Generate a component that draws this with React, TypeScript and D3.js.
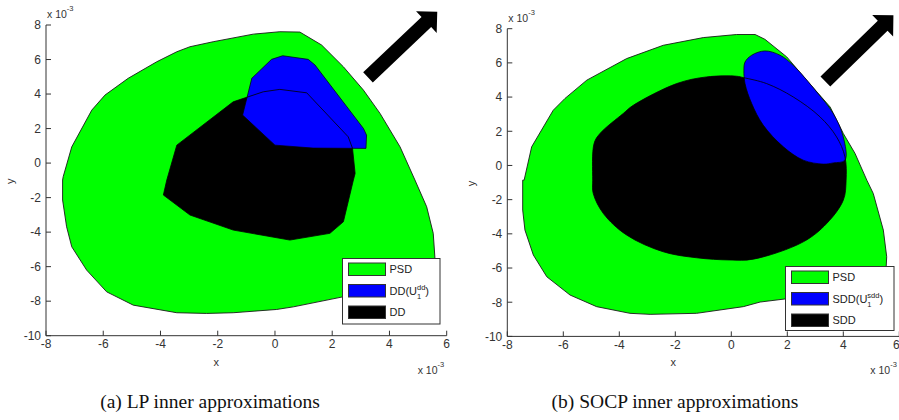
import React from "react";
import * as d3 from "d3";

type P = [number, number];

// ---- data (units of 1e-3) ----
const xTicks = [-8, -6, -4, -2, 0, 2, 4, 6];
const yTicks = [-10, -8, -6, -4, -2, 0, 2, 4, 6, 8];

const psdLeft: P[] = [
  [-7.4, -0.79], [-7.1, 0.94], [-6.4, 3.07], [-5.94, 3.94], [-5.13, 4.91], [-4.13, 5.87],
  [-3.43, 6.45], [-2.97, 6.74], [-2.16, 7.03], [-0.76, 7.47], [0.17, 7.61], [0.87, 7.59],
  [1.63, 6.84], [2.39, 5.58], [3.09, 4.23], [3.67, 2.88], [4.37, 0.94], [4.89, -0.98],
  [5.3, -2.53], [5.53, -4.07], [5.59, -5.52], [5.56, -6.32], [5.24, -7.07], [4.02, -7.47],
  [2.37, -7.75], [0.64, -8.33], [0.06, -8.48], [-1.46, -8.67], [-2.39, -8.71], [-3.43, -8.67],
  [-4.95, -8.23], [-5.88, -7.46], [-6.58, -6.2], [-7.1, -4.85], [-7.28, -3.69], [-7.42, -2.14],
  [-7.42, -0.98],
];
const ddLeft: P[] = [
  [-0.99, 3.81], [-0.41, 4.13], [0.17, 4.27], [1.11, 4.07], [2.56, 1.52], [2.71, 0.85],
  [2.8, -0.6], [2.74, -0.98], [2.39, -3.4], [1.92, -4.07], [0.52, -4.46], [-1.46, -3.88],
  [-2.97, -3.01], [-3.9, -1.85], [-3.78, -0.98], [-3.43, 1.04], [-1.46, 3.55],
];
const ddULeft: P[] = [
  [-1.13, 2.78], [-0.81, 4.91], [-0.12, 6.01], [0.27, 6.22], [1.16, 6.01], [1.4, 5.68],
  [3.09, 2.01], [3.2, 1.62], [3.18, 0.85], [1.33, 0.87], [0.0, 1.04],
];

const psdRight: P[] = [
  [-7.4, -0.86], [-7.13, 1.09], [-6.36, 3.23], [-5.94, 3.92], [-5.16, 4.99], [-3.74, 6.25],
  [-2.43, 7.03], [-1.0, 7.48], [0.19, 7.66], [0.85, 7.66], [1.2, 7.38], [1.98, 6.35],
  [2.69, 4.99], [3.53, 3.42], [4.0, 1.87], [4.42, 0.7], [4.84, -0.86], [5.07, -1.64],
  [5.43, -3.78], [5.55, -5.34], [5.53, -6.0], [4.95, -7.0], [3.53, -7.4], [1.92, -7.81],
  [1.03, -7.99], [0.43, -8.26], [-1.24, -8.65], [-2.9, -8.71], [-3.62, -8.65], [-4.81, -8.26],
  [-5.76, -7.58], [-6.59, -6.51], [-7.07, -5.24], [-7.37, -3.78], [-7.45, -2.61], [-7.45, -0.86],
];
const sddRight: P[] = [
  [-4.95, -0.86], [-4.9, 1.29], [-4.69, 1.87], [-3.86, 3.04], [-3.5, 3.52], [-1.95, 4.79],
  [-0.88, 5.18], [0.19, 5.22], [0.43, 5.14], [1.26, 4.79], [2.21, 4.01], [3.17, 2.84],
  [3.76, 1.67], [4.06, 0.5], [4.1, -0.86], [4.0, -2.03], [3.41, -3.39], [2.57, -4.47],
  [0.79, -5.48], [-0.05, -5.53], [-1.24, -5.4], [-2.43, -5.05], [-3.74, -4.07], [-4.57, -2.81],
  [-4.93, -1.64],
];
const sddURight: P[] = [
  [0.49, 6.05], [0.73, 6.45], [1.2, 6.7], [1.74, 6.45], [2.21, 5.86], [3.05, 4.3],
  [3.64, 3.04], [4.0, 1.67], [4.06, 0.31], [3.64, 0.15], [3.29, 0.08], [2.57, 0.31],
  [1.86, 1.09], [1.14, 2.36], [0.73, 3.62], [0.49, 4.79], [0.45, 5.57],
];

const arrowLeft: P[] = [[3.25, 4.97], [5.67, 8.77]];
const arrowRight: P[] = [[3.36, 4.91], [5.79, 8.78]];

const captions = ["(a) LP inner approximations", "(b) SOCP inner approximations"];
const legendLeft = ["PSD", "DD", "dd", "DD"];
const legendRight = ["PSD", "SDD", "sdd", "SDD"];

const GREEN = "#00ff00";
const BLUE = "#0000ff";
const AX = "#333333";
const SANS = "Arial, 'Liberation Sans', sans-serif";

function arrowPath(t: P, h: P, sw = 14, hw = 30, hl = 15) {
  const dx = h[0] - t[0], dy = h[1] - t[1];
  const L = Math.hypot(dx, dy);
  const ux = dx / L, uy = dy / L;
  const nx = -uy, ny = ux;
  const bx = h[0] - ux * hl, by = h[1] - uy * hl;
  const pts: P[] = [
    [t[0] + nx * sw / 2, t[1] + ny * sw / 2],
    [bx + nx * sw / 2, by + ny * sw / 2],
    [bx + nx * hw / 2, by + ny * hw / 2],
    h,
    [bx - nx * hw / 2, by - ny * hw / 2],
    [bx - nx * sw / 2, by - ny * sw / 2],
    [t[0] - nx * sw / 2, t[1] - ny * sw / 2],
  ];
  return "M" + pts.map((p) => p.join(",")).join("L") + "Z";
}

interface PanelProps {
  x0: number; x1: number; yTop: number; yBot: number;
  psd: P[]; inner: P[]; innerU: P[]; smooth: boolean; arrow: P[];
  legend: string[]; legendBox: [number, number, number, number];
  supW: number; lastTickShift: number;
}

function Panel(p: PanelProps) {
  const x = d3.scaleLinear().domain([-8, 6]).range([p.x0, p.x1]);
  const y = d3.scaleLinear().domain([-10, 8]).range([p.yBot, p.yTop]);
  const lin = d3.line<P>().x((d) => x(d[0])).y((d) => y(d[1])).curve(d3.curveLinearClosed);
  const sm = d3.line<P>().x((d) => x(d[0])).y((d) => y(d[1])).curve(p.smooth ? d3.curveCatmullRomClosed.alpha(0.5) : d3.curveLinearClosed);
  const a0: P = [x(p.arrow[0][0]), y(p.arrow[0][1])];
  const a1: P = [x(p.arrow[1][0]), y(p.arrow[1][1])];
  const [lx, ly, lw, lh] = p.legendBox;
  const swX = lx + 6, swW = 37, swH = 12.5;
  const rowY = [ly + 4.5, ly + 26, ly + 47.5];
  const tx = swX + swW + 4;
  const fills = [GREEN, BLUE, "#000"];
  return (
    <g>
      <path d={lin(p.psd) || ""} fill={GREEN} stroke="#1a1a1a" strokeWidth={0.9} />
      <path d={sm(p.inner) || ""} fill="#000" stroke="none" />
      <path d={sm(p.innerU) || ""} fill={BLUE} stroke="#000" strokeWidth={0.7} />
      <path d={sm(p.inner) || ""} fill="none" stroke="#000" strokeWidth={0.8} />
      <path d={arrowPath(a0, a1)} fill="#000" />
      {/* axes */}
      <line x1={p.x0} x2={p.x1} y1={p.yBot} y2={p.yBot} stroke={AX} strokeWidth={1} />
      <line x1={p.x0} x2={p.x0} y1={p.yBot} y2={p.yTop} stroke={AX} strokeWidth={1} />
      {xTicks.map((t, i) => (
        <g key={"x" + t}>
          <line x1={x(t)} x2={x(t)} y1={p.yBot} y2={p.yBot - 5} stroke={AX} />
          <text x={x(t) - (i === xTicks.length - 1 ? p.lastTickShift : 0)} y={p.yBot + 12.5} textAnchor="middle" fontFamily={SANS} fontSize={12} fill="#333">{t}</text>
        </g>
      ))}
      {yTicks.map((t) => (
        <g key={"y" + t}>
          <line x1={p.x0} x2={p.x0 + 5} y1={y(t)} y2={y(t)} stroke={AX} />
          <text x={p.x0 - 5} y={y(t) + 4.3} textAnchor="end" fontFamily={SANS} fontSize={12} fill="#333">{t}</text>
        </g>
      ))}
      <text x={p.x0 + 1} y={p.yTop - 7} fontFamily={SANS} fontSize={10.5} fill="#333">x 10<tspan fontSize={7.5} dy={-7}>-3</tspan></text>
      <text x={p.x1 - 29} y={p.yBot + 38} fontFamily={SANS} fontSize={10.5} fill="#333">x 10<tspan fontSize={7.5} dy={-7}>-3</tspan></text>
      <text x={(p.x0 + p.x1) / 2 - 30} y={p.yBot + 30} textAnchor="middle" fontFamily={SANS} fontSize={11} fill="#333">x</text>
      <text transform={`translate(${p.x0 - 32},${(p.yTop + p.yBot) / 2 + 1}) rotate(-90)`} textAnchor="middle" fontFamily={SANS} fontSize={11} fill="#333">y</text>
      {/* legend */}
      <rect x={lx} y={ly} width={lw} height={lh} fill="#fff" stroke="#333" strokeWidth={1} />
      {rowY.map((ry, i) => (
        <rect key={i} x={swX} y={ry} width={swW} height={swH} fill={fills[i]} stroke="#333" strokeWidth={1} />
      ))}
      <text x={tx} y={rowY[0] + 10} fontFamily={SANS} fontSize={11} fill="#222">{p.legend[0]}</text>
      <text x={tx} y={rowY[1] + 10} fontFamily={SANS} fontSize={11} fill="#222">
        {p.legend[1]}(U
        <tspan fontSize={7.5} dy={-5}>{p.legend[2]}</tspan>
        <tspan fontSize={7.5} dx={-p.supW} dy={9}>1</tspan>
        <tspan dx={p.supW - 4.2} dy={-4}>)</tspan>
      </text>
      <text x={tx} y={rowY[2] + 10} fontFamily={SANS} fontSize={11} fill="#222">{p.legend[3]}</text>
    </g>
  );
}

export default function App() {
  return (
    <svg width={899} height={420} style={{ position: "absolute", left: 0, top: 0, background: "#fff" }}>
      <rect width={899} height={420} fill="#fff" />
      <Panel x0={46} x1={446.7} yTop={25} yBot={335.7} psd={psdLeft} inner={ddLeft} innerU={ddULeft}
        smooth={false} arrow={arrowLeft} legend={legendLeft} legendBox={[342.5, 258.5, 97.5, 65.5]} supW={8.3} lastTickShift={0} />
      <Panel x0={507.3} x1={899.3} yTop={28.7} yBot={336.4} psd={psdRight} inner={sddRight} innerU={sddURight}
        smooth={true} arrow={arrowRight} legend={legendRight} legendBox={[785.5, 266.5, 108.5, 64]} supW={12.1} lastTickShift={3} />
      <text x={210} y={408} textAnchor="middle" fontFamily="'Liberation Serif', serif" fontSize={19.5} fill="#111">{captions[0]}</text>
      <text x={675} y={408} textAnchor="middle" fontFamily="'Liberation Serif', serif" fontSize={19.5} fill="#111">{captions[1]}</text>
    </svg>
  );
}
